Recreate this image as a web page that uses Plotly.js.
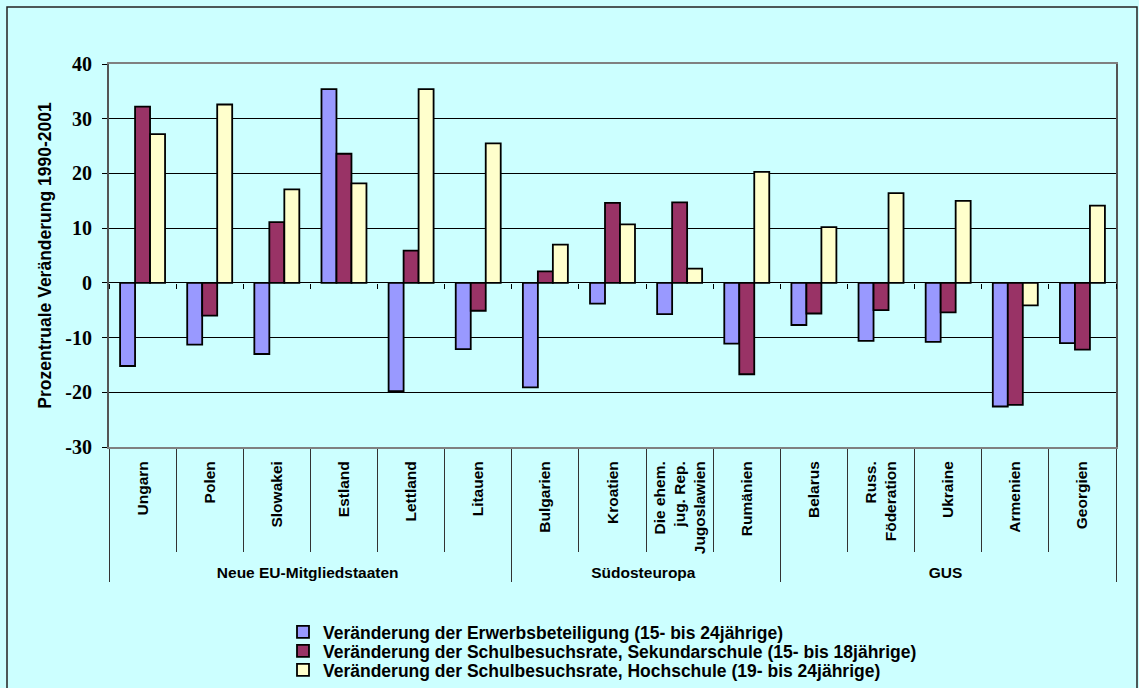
<!DOCTYPE html>
<html><head><meta charset="utf-8">
<script src="https://cdn.plot.ly/plotly-3.0.1.min.js"></script>
<style>html,body{margin:0;padding:0;background:#CCFFFF;} #chart{width:1139px;height:688px;}</style>
</head><body><div id="chart"></div>
<script>
const groups = ["Neue EU-Mitgliedstaaten","Neue EU-Mitgliedstaaten","Neue EU-Mitgliedstaaten","Neue EU-Mitgliedstaaten","Neue EU-Mitgliedstaaten","Neue EU-Mitgliedstaaten",
  "Südosteuropa","Südosteuropa","Südosteuropa","Südosteuropa",
  "GUS","GUS","GUS","GUS","GUS"];
const countries = ["Ungarn","Polen","Slowakei","Estland","Lettland","Litauen",
  "Bulgarien","Kroatien","Die ehem.<br>jug. Rep.<br>Jugoslawien","Rumänien",
  "Belarus","Russ.<br>Föderation","Ukraine","Armenien","Georgien"];
const erwerb   = [-15.2,-11.3,-13.0,35.4,-19.8,-12.1,-19.1,-3.8,-5.7,-11.1,-7.7,-10.6,-10.8,-22.6,-11.0];
const sekundar = [32.2,-6.0,11.1,23.6,5.9,-5.1,2.1,14.6,14.7,-16.7,-5.6,-5.0,-5.4,-22.3,-12.2];
const hoch     = [27.2,32.6,17.1,18.2,35.4,25.5,7.0,10.7,2.6,20.3,10.2,16.4,15.0,-4.1,14.1];
const seriesNames = ["Veränderung der Erwerbsbeteiligung (15- bis 24jährige)",
  "Veränderung der Schulbesuchsrate, Sekundarschule (15- bis 18jährige)",
  "Veränderung der Schulbesuchsrate, Hochschule (19- bis 24jährige)"];
const seriesColors = ["#9999FF","#993366","#FFFFCC"];
const yTitle = "Prozentruale Veränderung 1990-2001";
const yTickVals = [-30,-20,-10,0,10,20,30,40];
const yTickText = ["-30","-20","-10","0","10","20","30","40"];

const W=1139,H=688, L=109,R=23,T=64,B=241;
const pw=W-L-R, ph=H-T-B;
const px=X=>(X-L)/pw, py=Y=>(H-B-Y)/ph;

const xs = [groups, countries];
const seriesValues = [erwerb, sekundar, hoch];
const legendIds = ['legend','legend2','legend3'];
const legendRowsY = [632, 651, 670];
const traces = seriesValues.map((v,i)=>({
  type:'bar', x:xs, y:v, name:seriesNames[i], legend:legendIds[i],
  marker:{color:seriesColors[i], line:{color:'#000', width:1.8}},
  hoverinfo:'skip'
}));
// helper trace for the small tick marks on the zero line
traces.push({type:'scatter', mode:'markers', x:countries, y:countries.map(()=>null),
  xaxis:'x2', yaxis:'y', showlegend:false, hoverinfo:'skip'});

const legendFont = {family:'Liberation Sans, Arial, sans-serif', size:17.5, weight:'bold', color:'#000'};
const layout = {
  width:W, height:H,
  margin:{l:L,r:R,t:T,b:B, autoexpand:false},
  paper_bgcolor:'#CCFFFF', plot_bgcolor:'#CCFFFF',
  barmode:'group', bargap:0.33, bargroupgap:0,
  showlegend:true,
  xaxis:{type:'multicategory', showgrid:false, zeroline:false, automargin:false,
    showline:true, linecolor:'#808080', linewidth:2, mirror:true,
    ticks:'outside', tickson:'boundaries', ticklen:103, tickcolor:'#333', tickwidth:1,
    showdividers:true, dividercolor:'#333', dividerwidth:1,
    tickangle:-90, ticklabelstandoff:6,
    tickfont:{family:'Liberation Sans, Arial, sans-serif', size:15.5, weight:'bold', color:'#000'}},
  xaxis2:{type:'category', overlaying:'x', anchor:'free', position:30/70, side:'bottom',
    range:[-0.5,14.5], showgrid:false, zeroline:false, showline:false, showticklabels:false,
    ticks:'outside', tickson:'boundaries', ticklen:5, tickcolor:'#000', tickwidth:1},
  yaxis:{range:[-30,40], tickmode:'array', tickvals:yTickVals, ticktext:yTickText,
    showgrid:true, gridcolor:'#000', gridwidth:1,
    zeroline:true, zerolinecolor:'#000', zerolinewidth:1, automargin:false,
    showline:true, linecolor:'#555', linewidth:2, mirror:true,
    ticks:'outside', ticklen:5, tickcolor:'#000', ticklabelstandoff:6,
    tickfont:{family:'Liberation Serif, Times New Roman, serif', size:20, weight:'bold', color:'#000'},
    title:{text:yTitle, standoff:9, font:{family:'Liberation Sans, Arial, sans-serif', size:17.5, weight:'bold', color:'#000'}}},
  shapes:[{type:'rect', xref:'paper', yref:'paper', x0:px(7), x1:px(1137), y0:py(694), y1:py(7),
    line:{color:'#222', width:1.5}, fillcolor:'rgba(0,0,0,0)', layer:'below'}]
};
legendIds.forEach((id,i)=>{
  layout[id] = {x:px(283), y:py(legendRowsY[i]), xanchor:'left', yanchor:'middle',
    bgcolor:'rgba(0,0,0,0)', borderwidth:0, font:legendFont, itemclick:false, itemdoubleclick:false};
});
Plotly.newPlot('chart', traces, layout, {displayModeBar:false, staticPlot:true});
</script></body></html>
